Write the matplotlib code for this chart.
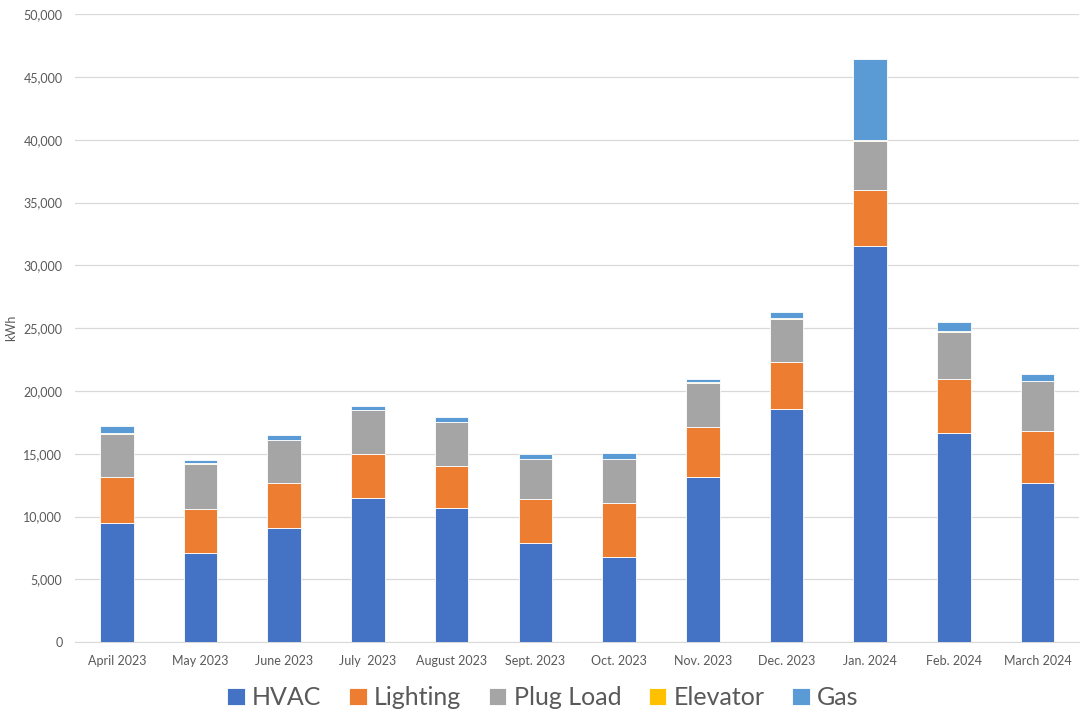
import numpy as np
import matplotlib
matplotlib.use('Agg')
import matplotlib.pyplot as plt

# Monthly energy use by end use (kWh)
months = ['April 2023', 'May 2023', 'June 2023', 'July  2023', 'August 2023', 'Sept. 2023',
          'Oct. 2023', 'Nov. 2023', 'Dec. 2023', 'Jan. 2024', 'Feb. 2024', 'March 2024']
hvac = [9500, 7060, 9100, 11440, 10640, 7860, 6770, 13160, 18580, 31550, 16620, 12680]
lighting = [3610, 3500, 3530, 3500, 3350, 3500, 4270, 3930, 3740, 4440, 4300, 4140]
plug_load = [3500, 3590, 3430, 3510, 3500, 3190, 3530, 3560, 3450, 3900, 3740, 3960]
elevator = [40, 80, 70, 40, 40, 40, 50, 50, 80, 60, 100, 50]
gas = [570, 260, 350, 330, 360, 380, 450, 240, 400, 6490, 720, 510]

series = [('HVAC', hvac, '#4472C4'),
          ('Lighting', lighting, '#ED7D31'),
          ('Plug Load', plug_load, '#A5A5A5'),
          ('Elevator', elevator, '#FFC000'),
          ('Gas', gas, '#5B9BD5')]

plt.rcParams['font.family'] = ['Lato', 'DejaVu Sans']

fig = plt.figure(figsize=(10.86, 7.15), dpi=100)
ax = fig.add_axes([0.069, 0.102, 0.925, 0.878])

x = np.arange(len(months))
bottom = np.zeros(len(months))
for name, vals, color in series:
    ax.bar(x, vals, width=0.4, bottom=bottom, color=color, label=name,
           edgecolor='white', linewidth=0.6, zorder=3)
    bottom += np.array(vals)

ax.set_xlim(-0.5, len(months) - 0.5)
ax.set_ylim(0, 50000)
ax.set_yticks(np.arange(0, 50001, 5000))
ax.yaxis.set_major_formatter(matplotlib.ticker.FuncFormatter(lambda v, p: f'{int(v):,}'))
ax.set_xticks(x)
ax.set_xticklabels(months)
ax.tick_params(axis='both', length=0, labelsize=9, colors='#595959', pad=9)
ax.grid(axis='y', color='#D9D9D9', linewidth=0.9, zorder=0)
for s in ['top', 'right', 'left']:
    ax.spines[s].set_visible(False)
ax.spines['bottom'].set_color('#D9D9D9')
ax.set_ylabel('kWh', fontsize=9, color='#595959')
ax.yaxis.set_label_coords(-0.058, 0.5)

fig.legend(loc='center', bbox_to_anchor=(0.5, 0.024), ncol=5, frameon=False,
           fontsize=18, handlelength=0.7, handleheight=0.7, handletextpad=0.3,
           columnspacing=1.1, labelcolor='#595959')

fig.savefig('out.png', dpi=100)
